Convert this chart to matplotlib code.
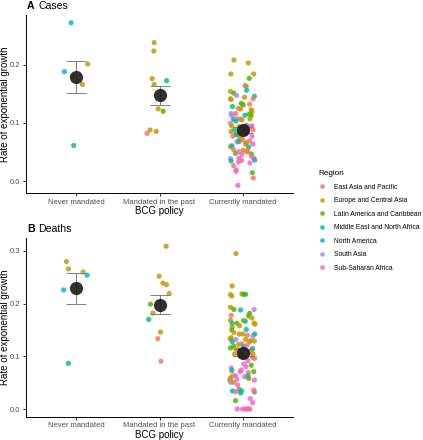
import numpy as np
import matplotlib
matplotlib.use('Agg')
import matplotlib.pyplot as plt
from matplotlib.lines import Line2D

plt.rcParams['font.family'] = ['Liberation Sans', 'DejaVu Sans']

policies = ['Never mandated', 'Mandated in the past', 'Currently mandated']
region_names = ['East Asia and Pacific', 'Europe and Central Asia', 'Latin America and Caribbean',
                'Middle East and North Africa', 'North America', 'South Asia', 'Sub-Saharan Africa']
region_codes = ['P', 'E', 'L', 'M', 'N', 'S', 'A']
region_colors = ['#F8766D', '#C49A00', '#53B400', '#00C094', '#00B6EB', '#A58AFF', '#FB61D7']

# ---- panel A: cases ----
cases_never = [0.272, 0.188, 0.180, 0.201, 0.166, 0.061]
cases_never_jit = [-0.06, -0.14, -0.044, 0.14, 0.076, -0.028]
cases_never_reg = "NNEEEM"

cases_past = [0.238, 0.2235, 0.176, 0.166, 0.1725, 0.124, 0.120, 0.0877, 0.082, 0.0854]
cases_past_jit = [-0.064, -0.068, -0.088, -0.064, 0.085, -0.016, 0.044, -0.113, -0.149, -0.04]
cases_past_reg = "EEEEMELEPE"

cases_current = [0.208, 0.203, 0.184, 0.184, 0.1765, 0.154, 0.151, 0.164, 0.163, 0.156,
                 0.1415, 0.14, 0.1455, 0.147, 0.144, 0.141, 0.128, 0.1335, 0.131, 0.132,
                 0.125, 0.124, 0.1225, 0.12, 0.116, 0.112, 0.106, 0.116, 0.115, 0.107,
                 0.107, 0.1066, 0.105, 0.113, 0.103, 0.099, 0.0957, 0.0946, 0.0946, 0.0934,
                 0.088, 0.088, 0.085, 0.091, 0.083, 0.079, 0.077, 0.077, 0.0745, 0.0716,
                 0.0676, 0.0676, 0.0705, 0.066, 0.069, 0.0636, 0.0636, 0.059, 0.0607, 0.054,
                 0.0476, 0.0504, 0.053, 0.050, 0.0585, 0.0464, 0.0458, 0.0527, 0.0384, 0.0344,
                 0.039, 0.0355, 0.0327, 0.0395, 0.042, 0.036, 0.031, 0.0264, 0.019, 0.0166,
                 0.0143, 0.0052, -0.0075, 0.0934, 0.0934, 0.113, 0.084, 0.080, 0.0865, 0.082]
cases_current_jit = [-0.108, 0.064, -0.145, 0.129, 0.076, -0.149, -0.108, 0.024, 0.04, 0.044,
                     -0.149, -0.141, 0.137, -0.076, 0.02, 0.12, -0.125, -0.02, 0.004, 0.08,
                     -0.056, -0.028, 0.1, 0.108, -0.141, -0.133, -0.112, -0.088, 0.076, 0.084,
                     -0.076, -0.032, -0.012, 0.1, -0.084, -0.149, 0.044, 0.108, -0.133, -0.048,
                     -0.1, 0.12, -0.141, 0.06, -0.036, -0.06, -0.12, 0.108, -0.016, -0.04,
                     -0.072, -0.048, -0.004, 0.04, 0.08, 0.032, 0.12, -0.149, -0.133, -0.112,
                     -0.088, -0.048, 0.004, 0.048, 0.068, 0.1, -0.012, 0.056, -0.149, -0.141,
                     -0.048, -0.016, -0.052, 0.129, 0.104, 0.141, 0.084, -0.112, -0.08, -0.084,
                     0.112, 0.124, -0.06, 0.02, 0.092, 0.024, 0.036, -0.08, 0.012, 0.032]
cases_current_reg = ("EEEELELSEM" "EEMSEPMLLP" "PEEESSMPLE" "APELMAMPEE" "MPEAEEPAEE"
                     "AMPEPEAEMP" "LAEEMLAPSM" "APAPAMAPPA" "LPAAAMLMAE")

cases_mean = [0.178, 0.148, 0.088]
cases_lo = [0.151, 0.131, 0.083]
cases_hi = [0.206, 0.164, 0.093]

# ---- panel B: deaths ----
deaths_never = [0.280, 0.266, 0.260, 0.254, 0.226, 0.0867]
deaths_never_jit = [-0.116, -0.092, 0.084, 0.133, -0.149, -0.092]
deaths_never_reg = "EEENNM"

deaths_past = [0.309, 0.252, 0.239, 0.236, 0.219, 0.199, 0.182, 0.170, 0.146, 0.1335, 0.0905]
deaths_past_jit = [0.08, -0.004, 0.04, 0.084, 0.116, -0.108, -0.08, -0.129, 0.012, -0.02, 0.016]
deaths_past_reg = "EEEEELEMEPP"

deaths_current = [0.295, 0.2335, 0.217, 0.2146, 0.2184, 0.2177, 0.2177, 0.193, 0.189, 0.188,
                  0.189, 0.1816, 0.1766, 0.1728, 0.1778, 0.1684, 0.163, 0.161, 0.1627, 0.1627,
                  0.168, 0.1665, 0.158, 0.156, 0.15, 0.151, 0.145, 0.1424, 0.1424, 0.1386,
                  0.1424, 0.14, 0.1335, 0.1354, 0.132, 0.132, 0.13, 0.128, 0.129, 0.1196,
                  0.1228, 0.1234, 0.1184, 0.121, 0.1158, 0.1133, 0.112, 0.112, 0.1146, 0.1044,
                  0.1089, 0.107, 0.1044, 0.0962, 0.098, 0.0918, 0.083, 0.0804, 0.0778, 0.074,
                  0.0709, 0.0709, 0.069, 0.0728, 0.0633, 0.0627, 0.0614, 0.0589, 0.055, 0.0563,
                  0.0627, 0.0582, 0.055, 0.0506, 0.0506, 0.0456, 0.0342, 0.0373, 0.0342, 0.0304,
                  0.0323, 0.0329, 0.036, 0.0158, 0.0196, 0.012, 0.0, 0.0, 0.0, 0.0,
                  0.0, 0.0, 0.1006, 0.0994, 0.0854, 0.128, 0.1044]
deaths_current_jit = [-0.084, -0.129, -0.149, -0.133, -0.012, 0.032, 0.012, -0.149, -0.108, -0.028,
                      0.133, 0.08, 0.068, 0.108, -0.141, -0.149, 0.133, 0.145, -0.129, -0.072,
                      0.004, 0.028, -0.04, -0.129, -0.133, 0.04, -0.108, -0.044, 0.0, 0.12,
                      0.141, 0.052, -0.153, -0.141, -0.084, 0.032, 0.096, -0.129, 0.137, -0.112,
                      -0.052, -0.012, 0.008, 0.052, -0.149, -0.08, -0.052, 0.1, 0.116, 0.12,
                      0.068, 0.092, -0.1, 0.141, 0.116, 0.06, 0.1, 0.036, -0.141, -0.02,
                      0.129, -0.032, 0.064, -0.133, -0.088, -0.125, 0.02, -0.149, -0.157, -0.072,
                      0.06, 0.068, 0.137, -0.149, -0.112, -0.064, -0.125, -0.044, -0.016, -0.028,
                      0.137, -0.088, 0.129, -0.088, 0.088, 0.116, -0.068, -0.004, 0.028, 0.064,
                      0.084, 0.048, -0.024, 0.02, 0.012, 0.08, -0.028]
deaths_current_reg = ("EEEEEMLELM" "SLLEPEEEML" "EMEELMEEES" "MPEESEPMEL" "EPMALEPEME"
                      "APEAEALAAP" "LAPMAPAEEA" "MLASEAMLMM" "LAALAAAAAA" "APELAEP")

deaths_mean = [0.229, 0.198, 0.107]
deaths_lo = [0.200, 0.180, 0.101]
deaths_hi = [0.258, 0.216, 0.113]

GREY_TXT = '#4D4D4D'


def draw_panel(ax, groups, mean, lo, hi, ylim, yticks, letter, title):
    for i, (vals, jit, reg) in enumerate(groups):
        x = (i + 1) + np.array(jit)
        cols = [region_colors[region_codes.index(r)] for r in reg]
        ax.scatter(x, vals, s=14, c=cols, alpha=0.85, linewidths=0, zorder=2)

    xs = np.arange(1, 4)
    mean = np.array(mean)
    ax.errorbar(xs, mean, yerr=[mean - np.array(lo), np.array(hi) - mean], fmt='none',
                ecolor='#7F7F7F', elinewidth=0.7, capsize=7, capthick=0.7, zorder=3)
    ax.scatter(xs, mean, s=90, color='#1A1A1A', alpha=0.9, linewidths=0, zorder=4)

    ax.set_xlim(0.4, 3.6)
    ax.set_ylim(*ylim)
    ax.set_xticks(xs)
    ax.set_xticklabels(policies)
    ax.set_yticks(yticks)
    ax.set_yticklabels(['%.1f' % t for t in yticks])
    ax.tick_params(labelsize=5.5, labelcolor=GREY_TXT, length=2.5, width=0.6, pad=1.5)
    for s in ['top', 'right']:
        ax.spines[s].set_visible(False)
    for s in ['left', 'bottom']:
        ax.spines[s].set_linewidth(0.7)
    ax.set_xlabel('BCG policy', fontsize=7, va='center')
    ax.xaxis.set_label_coords(0.5, -0.1)
    ax.set_ylabel('Rate of exponential growth', fontsize=7, va='center')
    ax.yaxis.set_label_coords(-0.08, 0.5)
    ax.text(0.004, 1.05, letter, transform=ax.transAxes, fontsize=7.6,
            fontweight='bold', va='center', ha='left')
    ax.text(0.046, 1.05, title, transform=ax.transAxes, fontsize=7.6,
            va='center', ha='left')


fig = plt.figure(figsize=(4.23, 4.40), dpi=100)
axA = fig.add_axes([26 / 423, 1 - 193 / 440, 267 / 423, 178 / 440])
axB = fig.add_axes([26 / 423, 1 - 416.7 / 440, 267 / 423, 178.4 / 440])

draw_panel(axA,
           [(cases_never, cases_never_jit, cases_never_reg),
            (cases_past, cases_past_jit, cases_past_reg),
            (cases_current, cases_current_jit, cases_current_reg)],
           cases_mean, cases_lo, cases_hi, (-0.0206, 0.2854), [0.0, 0.1, 0.2], 'A', 'Cases')
draw_panel(axB,
           [(deaths_never, deaths_never_jit, deaths_never_reg),
            (deaths_past, deaths_past_jit, deaths_past_reg),
            (deaths_current, deaths_current_jit, deaths_current_reg)],
           deaths_mean, deaths_lo, deaths_hi, (-0.0146, 0.324), [0.0, 0.1, 0.2, 0.3], 'B', 'Deaths')

handles = [Line2D([], [], marker='o', ls='', color=c, markersize=3.3, alpha=0.85,
                  markeredgewidth=0) for c in region_colors]
leg = fig.legend(handles, region_names, title='Region', loc='upper left',
                 bbox_to_anchor=(312 / 423, 1 - 164 / 440), frameon=False,
                 fontsize=4.9, title_fontsize=5.9, alignment='left',
                 handlelength=1.0, handletextpad=1.35, labelspacing=0.96)

fig.savefig('out.png', dpi=100)
